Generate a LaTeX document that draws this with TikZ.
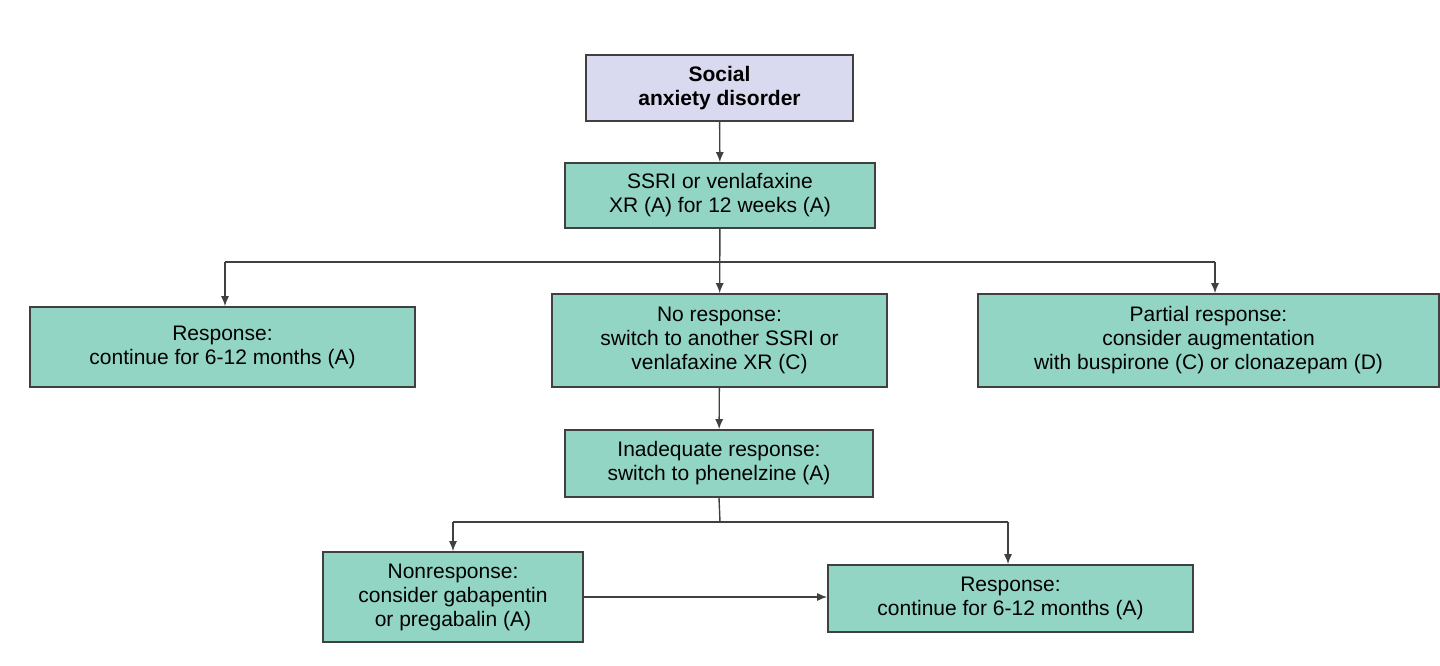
\documentclass[tikz,border=0pt]{standalone}
\usepackage{fontspec}
\setmainfont{Liberation Sans}
\usetikzlibrary{arrows.meta}
\definecolor{teal1}{HTML}{93D5C4}
\definecolor{lav}{HTML}{D9D9F0}
\begin{document}
\begin{tikzpicture}[x=0.5pt,y=-0.5pt,
  box/.style={draw=black!75,line width=0.8pt,fill=teal1,align=center,inner sep=0pt,font=\fontsize{10.5}{12}\selectfont,text=black!85},
  arr/.style={-{Latex[length=5pt,width=4pt]},line width=0.7pt,draw=black!75}]
\useasboundingbox (0,0) rectangle (1440,665);
\fill[white] (0,0) rectangle (1440,665);
\newcommand\bx[6]{\node[box,#6,minimum width={(#3-#2)*0.5pt},minimum height={(#5-#4)*0.5pt}] (#1) at ({(#2+#3)/2},{(#4+#5)/2}) {};}
\bx{soc}{586}{853}{55}{121}{fill=lav}
\node[font=\fontsize{10.5}{12}\selectfont\bfseries,align=center] at (soc) {Social\\anxiety disorder};
\bx{ssri}{565}{875}{163}{228}{}
\node[align=center,font=\fontsize{10.5}{12}\selectfont] at (ssri) {SSRI or venlafaxine\\XR (A) for 12 weeks (A)};
\bx{resp}{30}{415}{307}{387}{}
\node[align=center,font=\fontsize{10.5}{12}\selectfont] at (resp) {Response:\\continue for 6-12 months (A)};
\bx{nor}{552}{887}{294}{387}{}
\node[align=center,font=\fontsize{10.5}{12}\selectfont] at (nor) {No response:\\switch to another SSRI or\\venlafaxine XR (C)};
\bx{part}{978}{1439}{294}{387}{}
\node[align=center,font=\fontsize{10.5}{12}\selectfont] at (part) {Partial response:\\consider augmentation\\with buspirone (C) or clonazepam (D)};
\bx{inad}{565}{873}{430}{497}{}
\node[align=center,font=\fontsize{10.5}{12}\selectfont] at (inad) {Inadequate response:\\switch to phenelzine (A)};
\bx{nonr}{323}{583}{552}{642}{}
\node[align=center,font=\fontsize{10.5}{12}\selectfont] at (nonr) {Nonresponse:\\consider gabapentin\\or pregabalin (A)};
\bx{resp2}{828}{1193}{565}{632}{}
\node[align=center,font=\fontsize{10.5}{12}\selectfont] at (resp2) {Response:\\continue for 6-12 months (A)};
\coordinate (j1) at (720,262);
\coordinate (j2) at (720,522);
\draw[arr] (soc) -- (ssri);
\draw[arr] (ssri) -- (nor);
\draw[line width=0.7pt,draw=black!75] (225,262) -- (1215,262);
\draw[arr] (225,262) -- (resp.north -| 225,0);
\draw[arr] (1215,262) -- (part.north -| 1215,0);
\draw[arr] (nor) -- (inad);
\draw[line width=0.7pt,draw=black!75] (inad.south) -- (j2);
\draw[line width=0.7pt,draw=black!75] (453,522) -- (1008,522);
\draw[arr] (453,522) -- (nonr.north -| 453,0);
\draw[arr] (1008,522) -- (resp2.north -| 1008,0);
\draw[arr] (nonr.east |- 0,597) -- (resp2.west |- 0,597);
\end{tikzpicture}
\end{document}
